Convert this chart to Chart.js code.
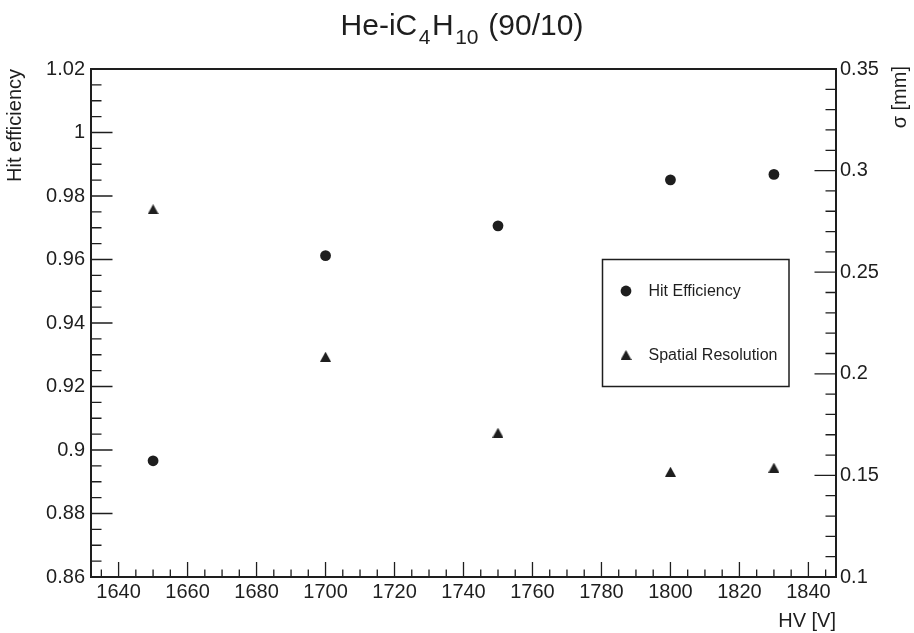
<!DOCTYPE html>
<html>
<head>
    <title>He-iC4H10 (90/10)</title>
    <script src="https://cdn.jsdelivr.net/npm/chart.js"></script>
    <style>
        body { margin: 0; background: #fff; }
    </style>
</head>
<body>
    <canvas id="chart" width="914" height="633"></canvas>

    <script>
        // HV scan points
        const hvValues = [1650, 1700, 1750, 1800, 1830];
        const hitEfficiency = [0.8966, 0.9612, 0.9706, 0.9851, 0.9868];
        const spatialResolution = [0.2810, 0.2084, 0.1710, 0.1518, 0.1538];

        // axis ranges and labelled ticks
        const hvRange = [1632, 1848];
        const effRange = [0.86, 1.02];
        const sigmaRange = [0.1, 0.35];
        const hvTicks = [1640, 1660, 1680, 1700, 1720, 1740, 1760, 1780, 1800, 1820, 1840];
        const effTicks = [0.86, 0.88, 0.9, 0.92, 0.94, 0.96, 0.98, 1, 1.02];
        const sigmaTicks = [0.1, 0.15, 0.2, 0.25, 0.3, 0.35];

        const titleParts = [
            { text: 'He-iC', sub: false },
            { text: '4', sub: true },
            { text: 'H', sub: false },
            { text: '10', sub: true },
            { text: ' (90/10)', sub: false }
        ];

        const ink = '#1e1e1e';
        const fontFamily = '"Liberation Sans", Arial, Helvetica, sans-serif';
        Chart.defaults.font.family = fontFamily;
        Chart.defaults.color = ink;

        // ROOT style full triangle, centred on its bounding box
        const makeTriangle = (w, h) => {
            const c = document.createElement('canvas');
            c.width = w;
            c.height = h;
            const g = c.getContext('2d');
            g.fillStyle = ink;
            g.beginPath();
            g.moveTo(w / 2, 0);
            g.lineTo(w, h);
            g.lineTo(0, h);
            g.closePath();
            g.fill();
            return c;
        };
        const triangle = makeTriangle(11, 10);

        const fmt = v => String(+v.toFixed(3));
        const setTicks = values => scale => {
            scale.ticks = values.map(v => ({ value: v }));
        };

        // frame + inward ticks like a ROOT canvas
        const rootFrame = {
            id: 'rootFrame',
            beforeDraw(chart) {
                const ctx = chart.ctx;
                ctx.save();
                ctx.fillStyle = '#fff';
                ctx.fillRect(0, 0, chart.width, chart.height);
                ctx.restore();
            },
            afterDatasetsDraw(chart) {
                const { ctx, chartArea: a, scales } = chart;
                ctx.save();
                ctx.strokeStyle = ink;

                const tickRun = (scale, from, to, step, major, len, draw) => {
                    const n = Math.round((to - from) / step);
                    for (let i = 0; i <= n; i++) {
                        const v = from + i * step;
                        const p = scale.getPixelForValue(v);
                        const isMajor = Math.abs(v / major - Math.round(v / major)) < 1e-6;
                        draw(p, isMajor ? len[0] : len[1]);
                    }
                };

                ctx.lineWidth = 1.3;
                ctx.beginPath();
                tickRun(scales.x, 1635, 1845, 5, 20, [15, 7.5], (p, l) => {
                    ctx.moveTo(p, a.bottom);
                    ctx.lineTo(p, a.bottom - l);
                });
                tickRun(scales.y, effRange[0], effRange[1], 0.005, 0.02, [21.5, 10.5], (p, l) => {
                    ctx.moveTo(a.left, p);
                    ctx.lineTo(a.left + l, p);
                });
                tickRun(scales.y2, sigmaRange[0], sigmaRange[1], 0.01, 0.05, [21.5, 10.5], (p, l) => {
                    ctx.moveTo(a.right, p);
                    ctx.lineTo(a.right - l, p);
                });
                ctx.stroke();

                ctx.lineWidth = 2;
                ctx.strokeRect(a.left, a.top, a.right - a.left, a.bottom - a.top);
                ctx.restore();
            },
            afterDraw(chart) {
                const ctx = chart.ctx;
                ctx.save();
                ctx.fillStyle = ink;

                // title with subscripts
                const big = '30px ' + fontFamily;
                const small = '21px ' + fontFamily;
                let total = 0;
                titleParts.forEach(p => {
                    ctx.font = p.sub ? small : big;
                    p.w = ctx.measureText(p.text).width + (p.sub ? 3 : 0);
                    total += p.w;
                });
                let x = 462 - total / 2;
                ctx.textBaseline = 'alphabetic';
                ctx.textAlign = 'left';
                titleParts.forEach(p => {
                    ctx.font = p.sub ? small : big;
                    ctx.fillText(p.text, x + (p.sub ? 1.5 : 0), p.sub ? 44 : 35);
                    x += p.w;
                });

                // right axis title, reads bottom to top
                ctx.font = '20px ' + fontFamily;
                ctx.translate(900, chart.chartArea.top - 3);
                ctx.rotate(-Math.PI / 2);
                ctx.textAlign = 'right';
                ctx.textBaseline = 'middle';
                ctx.fillText('\u03c3 [mm]', 0, 0);
                ctx.restore();

                // legend box
                ctx.save();
                ctx.strokeStyle = ink;
                ctx.lineWidth = 1.5;
                ctx.strokeRect(602.5, 259.5, 186.5, 127);
                ctx.font = '16px ' + fontFamily;
                ctx.fillStyle = ink;
                ctx.textBaseline = 'middle';
                ctx.textAlign = 'left';
                const rows = [291, 355];
                chart.data.datasets.forEach((ds, i) => {
                    const y = rows[i];
                    if (ds.pointStyle === 'circle') {
                        ctx.beginPath();
                        ctx.arc(626, y, ds.pointRadius, 0, Math.PI * 2);
                        ctx.fill();
                    } else {
                        ctx.drawImage(ds.pointStyle, 626 - ds.pointStyle.width / 2, y - ds.pointStyle.height / 2);
                    }
                    ctx.fillText(ds.label, 648.5, y + 0.5);
                });
                ctx.restore();
            }
        };

        new Chart(document.getElementById('chart'), {
            type: 'scatter',
            data: {
                datasets: [
                    {
                        label: 'Hit Efficiency',
                        data: hvValues.map((hv, i) => ({ x: hv, y: hitEfficiency[i] })),
                        yAxisID: 'y',
                        pointStyle: 'circle',
                        pointRadius: 5.4,
                        pointBorderWidth: 0,
                        backgroundColor: ink,
                        borderColor: ink
                    },
                    {
                        label: 'Spatial Resolution',
                        data: hvValues.map((hv, i) => ({ x: hv, y: spatialResolution[i] })),
                        yAxisID: 'y2',
                        pointStyle: triangle,
                        pointRadius: 6,
                        pointBorderWidth: 0,
                        backgroundColor: ink,
                        borderColor: ink
                    }
                ]
            },
            options: {
                responsive: false,
                animation: false,
                events: [],
                layout: { padding: { top: 69, left: 0, right: 0, bottom: 0 } },
                plugins: {
                    legend: { display: false },
                    tooltip: { enabled: false }
                },
                scales: {
                    x: {
                        type: 'linear',
                        position: 'bottom',
                        min: hvRange[0],
                        max: hvRange[1],
                        afterBuildTicks: setTicks(hvTicks),
                        afterFit: s => { s.height = 56; },
                        grid: { display: false, drawTicks: false },
                        border: { display: false },
                        ticks: {
                            autoSkip: false,
                            maxRotation: 0,
                            padding: 3,
                            font: { size: 20 },
                            callback: v => String(v)
                        },
                        title: {
                            display: true,
                            text: 'HV [V]',
                            align: 'end',
                            font: { size: 20 },
                            padding: { top: 0, bottom: 0 }
                        }
                    },
                    y: {
                        type: 'linear',
                        position: 'left',
                        min: effRange[0],
                        max: effRange[1],
                        afterBuildTicks: setTicks(effTicks),
                        afterFit: s => { s.width = 91; },
                        grid: { display: false, drawTicks: false },
                        border: { display: false },
                        ticks: {
                            autoSkip: false,
                            padding: 6,
                            font: { size: 20 },
                            callback: v => fmt(v)
                        },
                        title: {
                            display: true,
                            text: 'Hit efficiency',
                            align: 'end',
                            font: { size: 20 },
                            padding: { top: 3, bottom: 0 }
                        }
                    },
                    y2: {
                        type: 'linear',
                        position: 'right',
                        min: sigmaRange[0],
                        max: sigmaRange[1],
                        afterBuildTicks: setTicks(sigmaTicks),
                        afterFit: s => { s.width = 78; },
                        grid: { display: false, drawTicks: false },
                        border: { display: false },
                        ticks: {
                            autoSkip: false,
                            padding: 4,
                            font: { size: 20 },
                            callback: v => fmt(v)
                        }
                    }
                }
            },
            plugins: [rootFrame]
        });
    </script>
</body>
</html>
